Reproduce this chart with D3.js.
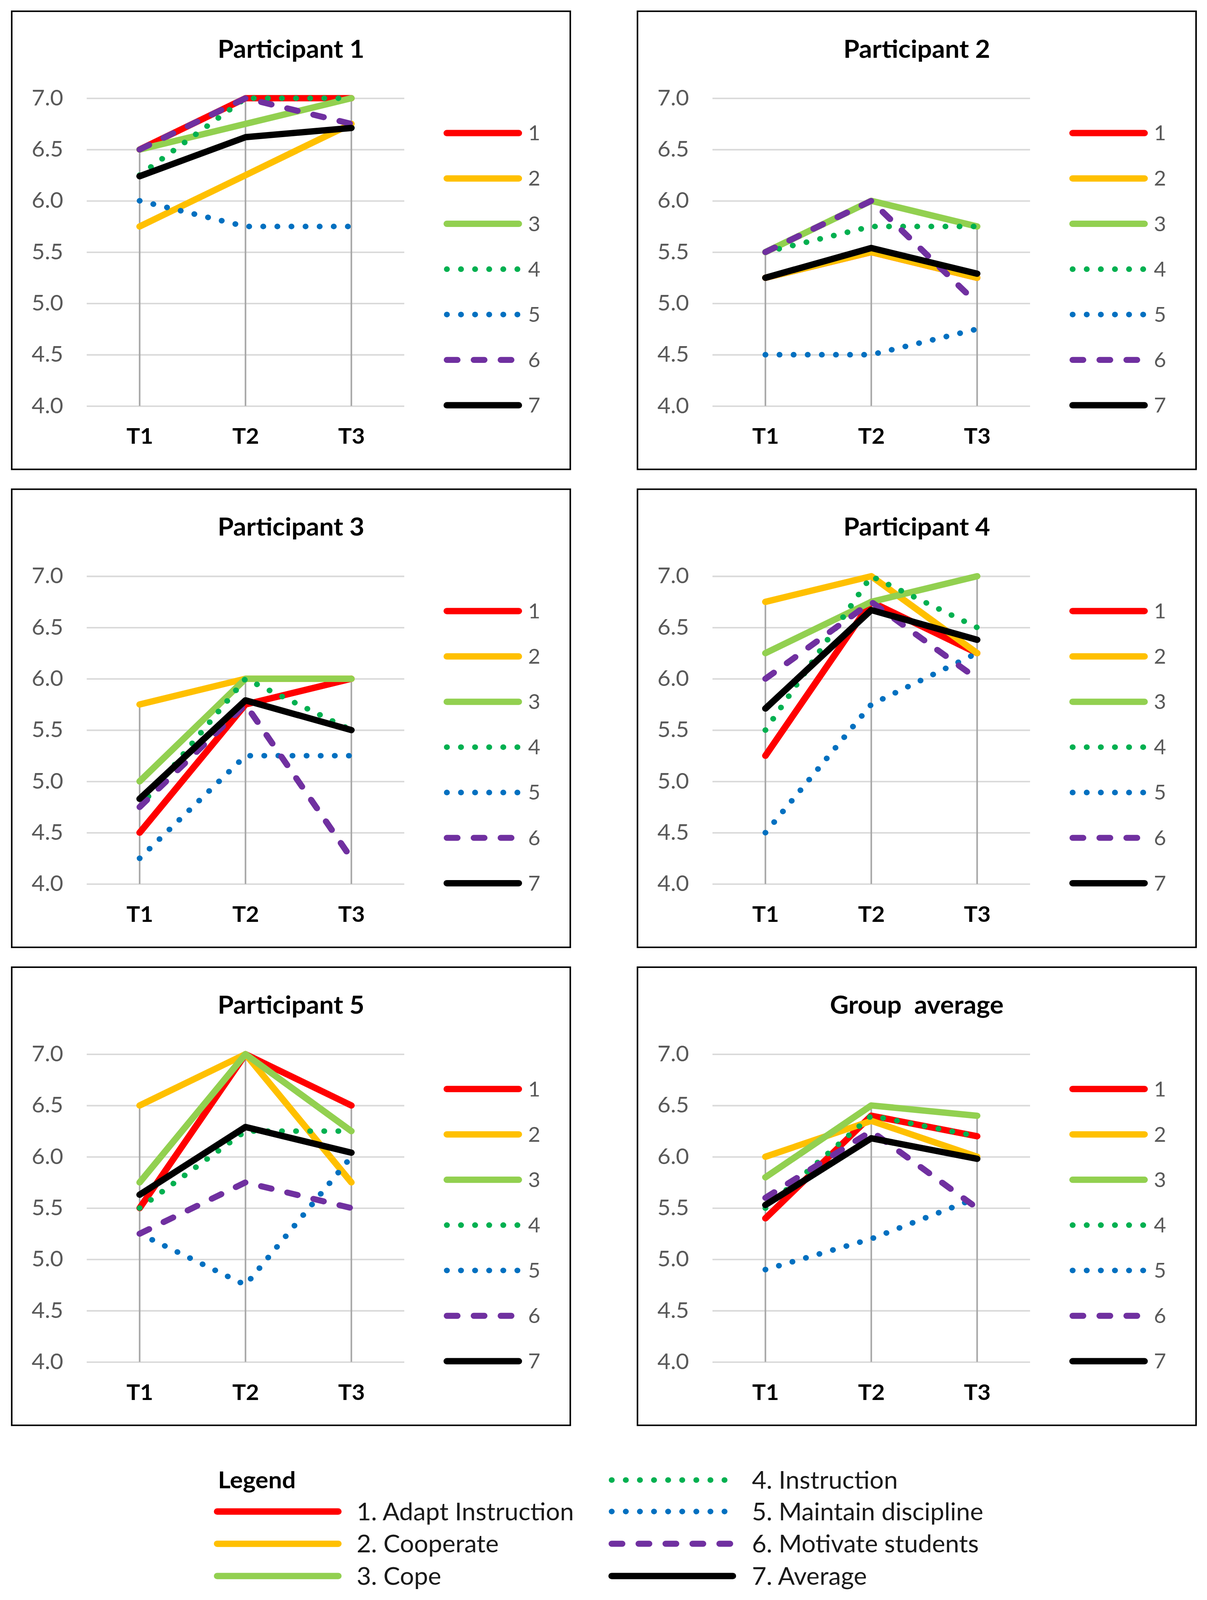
<!DOCTYPE html>
<html>
<head>
<meta charset="utf-8">
<script src="https://cdn.jsdelivr.net/npm/d3@7/dist/d3.min.js"></script>
<style>
html, body { margin: 0; padding: 0; background: #fff; overflow: hidden; }
#chart { display: block; width: 100vw; height: 100vh; }
text { font-family: Lato, "Open Sans", sans-serif; }
</style>
</head>
<body>
<svg id="chart" viewBox="0 0 3090 4268" preserveAspectRatio="none"></svg>
<script>
'use strict';

const times = ['T1', 'T2', 'T3'];
const yTicks = [4.0, 4.5, 5.0, 5.5, 6.0, 6.5, 7.0];
const seriesKeys = ['1', '2', '3', '4', '5', '6', '7'];
const seriesLabels = ['1. Adapt Instruction', '2. Cooperate', '3. Cope', '4. Instruction',
    '5. Maintain discipline', '6. Motivate students', '7. Average'];
const panelTitles = ['Participant 1', 'Participant 2', 'Participant 3', 'Participant 4',
    'Participant 5', 'Group  average'];

// one row per series (1..7), one value per time point
const participant1 = [
    [6.5, 7.0, 7.0], [5.75, 6.25, 6.75], [6.5, 6.75, 7.0], [6.25, 7.0, 7.0],
    [6.0, 5.75, 5.75], [6.5, 7.0, 6.75], [6.24, 6.62, 6.71]
];
const participant2 = [
    [5.25, 5.5, 5.25], [5.25, 5.5, 5.25], [5.5, 6.0, 5.75], [5.5, 5.75, 5.75],
    [4.5, 4.5, 4.75], [5.5, 6.0, 5.0], [5.25, 5.54, 5.29]
];
const participant3 = [
    [4.5, 5.75, 6.0], [5.75, 6.0, 6.0], [5.0, 6.0, 6.0], [4.75, 6.0, 5.5],
    [4.25, 5.25, 5.25], [4.75, 5.75, 4.25], [4.83, 5.79, 5.5]
];
const participant4 = [
    [5.25, 6.75, 6.25], [6.75, 7.0, 6.25], [6.25, 6.75, 7.0], [5.5, 7.0, 6.5],
    [4.5, 5.75, 6.25], [6.0, 6.75, 6.0], [5.71, 6.67, 6.38]
];
const participant5 = [
    [5.5, 7.0, 6.5], [6.5, 7.0, 5.75], [5.75, 7.0, 6.25], [5.5, 6.25, 6.25],
    [5.25, 4.75, 6.0], [5.25, 5.75, 5.5], [5.63, 6.29, 6.04]
];
const groupAverage = [
    [5.4, 6.4, 6.2], [6.0, 6.35, 6.0], [5.8, 6.5, 6.4], [5.5, 6.4, 6.2],
    [4.9, 5.2, 5.6], [5.6, 6.25, 5.5], [5.53, 6.18, 5.98]
];

const panelData = [participant1, participant2, participant3, participant4, participant5, groupAverage];

const colors = ['#ff0000', '#ffc000', '#92d050', '#00b050', '#0070c0', '#7030a0', '#000000'];
const dashes = [null, null, null, '0.1 36', '0.1 36', '27 42', null];
const widths = [17, 17, 17, 15, 15, 16, 17];

const panelW = 1430;
const panelH = 1222;
const colX = [30, 1632];
const rowY = [30, 1305, 2580];

const svg = d3.select('#chart');

function styleSeries(sel, i) {
    sel.attr('fill', 'none')
        .attr('stroke', colors[i])
        .attr('stroke-width', widths[i])
        .attr('stroke-linecap', 'round')
        .attr('stroke-linejoin', 'round')
        .attr('stroke-dasharray', dashes[i]);
}

function drawPanel(g, title, data) {
    let x = d3.scalePoint().domain(times).range([192, 1005]).padding(0.5);
    let y = d3.scaleLinear().domain([4, 7]).range([1053, 232]);

    g.append('rect')
        .attr('width', panelW).attr('height', panelH)
        .attr('fill', '#fff').attr('stroke', '#000').attr('stroke-width', 4);

    g.append('text')
        .attr('x', panelW / 2).attr('y', 124)
        .attr('text-anchor', 'middle')
        .attr('font-size', 66).attr('font-weight', 700)
        .style('white-space', 'pre')
        .text(title);

    let yAxis = g.append('g')
        .attr('transform', 'translate(192,0)')
        .call(d3.axisLeft(y).tickValues(yTicks).tickSize(-813).tickPadding(60).tickFormat(d3.format('.1f')));
    yAxis.select('.domain').remove();
    yAxis.selectAll('line').attr('stroke', '#d9d9d9').attr('stroke-width', 4);
    yAxis.selectAll('text').attr('fill', '#595959').attr('font-size', 58);

    let xAxis = g.append('g')
        .attr('transform', 'translate(0,1053)')
        .call(d3.axisBottom(x).tickSize(0).tickPadding(60));
    xAxis.select('.domain').remove();
    xAxis.selectAll('text').attr('fill', '#000').attr('font-size', 58).attr('font-weight', 700);

    // drop lines from the highest value down to the axis
    g.selectAll('line.drop')
        .data(times)
        .enter().append('line')
        .attr('class', 'drop')
        .attr('x1', d => x(d)).attr('x2', d => x(d))
        .attr('y1', (d, j) => y(d3.max(data, s => s[j])))
        .attr('y2', y(4))
        .attr('stroke', '#a6a6a6').attr('stroke-width', 4);

    let line = d3.line()
        .x((d, j) => x(times[j]))
        .y(d => y(d));

    data.forEach((s, i) => {
        g.append('path').attr('d', line(s)).call(styleSeries, i);
    });

    let ly = d3.scalePoint().domain(seriesKeys).range([325, 1051]);
    seriesKeys.forEach((k, i) => {
        g.append('line')
            .attr('x1', 1114).attr('x2', 1298)
            .attr('y1', ly(k)).attr('y2', ly(k))
            .call(styleSeries, i);
        g.append('text')
            .attr('x', 1322).attr('y', ly(k))
            .attr('dy', '0.36em')
            .attr('fill', '#595959').attr('font-size', 54)
            .text(k);
    });
}

panelData.forEach((data, p) => {
    let g = svg.append('g')
        .attr('transform', `translate(${colX[p % 2]},${rowY[Math.floor(p / 2)]})`);
    drawPanel(g, panelTitles[p], data);
});

// bottom legend
let legend = svg.append('g');
legend.append('text')
    .attr('x', 558).attr('y', 3948).attr('dy', '0.36em')
    .attr('font-size', 62).attr('font-weight', 700)
    .text('Legend');

let rowsY = [4032, 4118, 4204, 3948, 4032, 4118, 4204];
seriesLabels.forEach((label, i) => {
    let left = i < 3;
    let x0 = left ? 556 : 1566;
    legend.append('line')
        .attr('x1', x0).attr('x2', x0 + 310)
        .attr('y1', rowsY[i]).attr('y2', rowsY[i])
        .call(styleSeries, i);
    legend.append('text')
        .attr('x', left ? 913 : 1925).attr('y', rowsY[i]).attr('dy', '0.36em')
        .attr('font-size', 64).attr('fill', '#1a1a1a')
        .text(label);
});
</script>
</body>
</html>
